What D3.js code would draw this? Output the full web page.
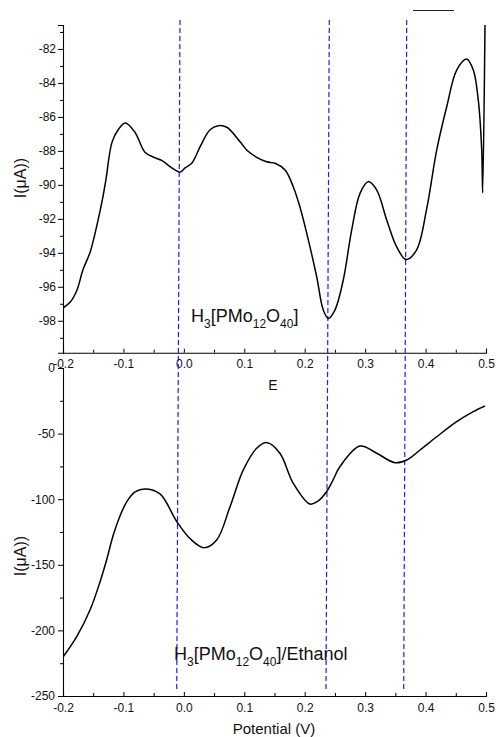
<!DOCTYPE html>
<html>
<head>
<meta charset="utf-8">
<script src="https://cdn.jsdelivr.net/npm/d3@7/dist/d3.min.js"></script>
<style>
  html, body { margin: 0; padding: 0; background: #fff; }
  svg { display: block; font-family: "Liberation Sans", Arial, sans-serif; }
</style>
</head>
<body>
<svg id="chart" width="496" height="737"></svg>
<script>
// ---- Data ----
const potentialTop = [-0.2, -0.188, -0.177, -0.167, -0.155, -0.144, -0.135, -0.129, -0.119, -0.109, -0.097, -0.081, -0.064, -0.048, -0.035, -0.020, -0.006, 0.002, 0.013, 0.027, 0.043, 0.057, 0.071, 0.093, 0.104, 0.1205, 0.137, 0.151, 0.1675, 0.181, 0.192, 0.203, 0.2198, 0.2307, 0.239, 0.250, 0.2638, 0.2777, 0.2915, 0.305, 0.319, 0.3357, 0.352, 0.3676, 0.385, 0.4019, 0.4184, 0.435, 0.4515, 0.468, 0.479, 0.4872, 0.4929, 0.4945, 0.4985];
const currentTop = [-97.25, -96.9, -96.2, -95.0, -93.95, -92.4, -90.9, -89.7, -87.5, -86.77, -86.36, -86.9, -88.1, -88.4, -88.6, -89.0, -89.25, -89.0, -88.73, -87.75, -86.77, -86.52, -86.61, -87.46, -87.95, -88.38, -88.64, -88.73, -89.13, -90.11, -91.29, -92.8, -95.41, -97.37, -97.86, -97.37, -95.6, -92.66, -90.5, -89.81, -90.3, -92.07, -93.64, -94.39, -93.84, -91.4, -87.95, -85.4, -83.24, -82.59, -83.24, -85.0, -87.95, -90.48, -80.0];

const potentialBottom = [-0.2, -0.1773, -0.1553, -0.1388, -0.1288, -0.1168, -0.1057, -0.0946, -0.0808, -0.0643, -0.0395, -0.0118, 0.0102, 0.0333, 0.0543, 0.0764, 0.0984, 0.1205, 0.1381, 0.159, 0.1811, 0.2087, 0.2220, 0.2364, 0.2468, 0.2584, 0.2915, 0.3191, 0.3494, 0.3688, 0.3908, 0.4184, 0.4515, 0.479, 0.4983];
const currentBottom = [-220.3, -204.8, -184.5, -163.1, -147.9, -127.3, -112.8, -102.1, -94.5, -92.2, -96.0, -117.0, -130.0, -137.0, -131.1, -105.7, -77.7, -61.2, -56.9, -65.0, -87.9, -103.7, -101.4, -94.1, -85.4, -75.1, -59.5, -65.0, -72.2, -70.1, -62.5, -52.4, -40.9, -33.3, -29.0];

const xTickValues = [-0.2, -0.1, 0.0, 0.1, 0.2, 0.3, 0.4, 0.5];
const xMinorValues = [-0.15, -0.05, 0.05, 0.15, 0.25, 0.35, 0.45];
const yTickTop = [-82, -84, -86, -88, -90, -92, -94, -96, -98];
const yMinorTop = [-81, -83, -85, -87, -89, -91, -93, -95, -97, -99];
const yTickBottom = [0, -50, -100, -150, -200, -250];
const yMinorBottom = [-25, -75, -125, -175, -225];

// dashed marker lines: potential at top end and bottom end
const markerTop = [-0.0064, 0.2407, 0.3688];
const markerBottom = [-0.0118, 0.2352, 0.3638];

const labelTop = [["H", false], ["3", true], ["[PMo", false], ["12", true], ["O", false], ["40", true], ["]", false]];
const labelBottom = [["H", false], ["3", true], ["[PMo", false], ["12", true], ["O", false], ["40", true], ["]/Ethanol", false]];

// ---- Drawing ----
const svg = d3.select("#chart");
svg.append("rect").attr("width", 496).attr("height", 737).attr("fill", "#fff");

const x = d3.scaleLinear().domain([-0.2, 0.5]).range([63, 486]);
const yTop = d3.scaleLinear().domain([-99.88, -80.59]).range([352.7, 25]);
const yBot = d3.scaleLinear().domain([-250, 0]).range([696, 368]);

const fmtX = d => d.toFixed(1);
const fmtY = d => String(d);

function styleAxis(g) {
  g.selectAll("path.domain").attr("stroke", "#000").attr("stroke-width", 1.1);
  g.selectAll(".tick line").attr("stroke", "#000").attr("stroke-width", 1);
  g.selectAll(".tick text").attr("fill", "#111").style("font-size", "12px").style("font-family", "'Liberation Sans', Arial, sans-serif");
}

// clip paths
svg.append("clipPath").attr("id", "clipTop").append("rect")
  .attr("x", 63).attr("y", 25).attr("width", 423).attr("height", 327.7);
svg.append("clipPath").attr("id", "clipBot").append("rect")
  .attr("x", 63).attr("y", 368).attr("width", 423).attr("height", 328);

// Top panel axes
const gYTop = svg.append("g").attr("transform", "translate(63,0)")
  .call(d3.axisLeft(yTop).tickValues(yTickTop).tickSize(5).tickPadding(2).tickFormat(fmtY));
styleAxis(gYTop);
const gYTopMinor = svg.append("g").attr("transform", "translate(63,0)")
  .call(d3.axisLeft(yTop).tickValues(yMinorTop).tickSize(3).tickFormat(""));
styleAxis(gYTopMinor); gYTopMinor.select("path.domain").remove();

const gXTop = svg.append("g").attr("transform", "translate(0,352.7)")
  .call(d3.axisBottom(x).tickValues(xTickValues).tickSize(-4).tickPadding(7).tickFormat(fmtX));
styleAxis(gXTop);
const gXTopMinor = svg.append("g").attr("transform", "translate(0,352.7)")
  .call(d3.axisBottom(x).tickValues(xMinorValues).tickSize(-3).tickFormat(""));
styleAxis(gXTopMinor); gXTopMinor.select("path.domain").remove();

// Bottom panel axes
const gYBot = svg.append("g").attr("transform", "translate(63,0)")
  .call(d3.axisLeft(yBot).tickValues(yTickBottom).tickSize(5).tickPadding(3).tickFormat(fmtY));
styleAxis(gYBot);
const gYBotMinor = svg.append("g").attr("transform", "translate(63,0)")
  .call(d3.axisLeft(yBot).tickValues(yMinorBottom).tickSize(3).tickFormat(""));
styleAxis(gYBotMinor); gYBotMinor.select("path.domain").remove();

const gXBot = svg.append("g").attr("transform", "translate(0,696)")
  .call(d3.axisBottom(x).tickValues(xTickValues).tickSize(-4).tickPadding(7).tickFormat(fmtX));
styleAxis(gXBot);
const gXBotMinor = svg.append("g").attr("transform", "translate(0,696)")
  .call(d3.axisBottom(x).tickValues(xMinorValues).tickSize(-3).tickFormat(""));
styleAxis(gXBotMinor); gXBotMinor.select("path.domain").remove();

// Dashed marker lines
svg.append("g").selectAll("line").data(d3.range(markerTop.length)).join("line")
  .attr("x1", i => x(markerTop[i])).attr("y1", 20)
  .attr("x2", i => x(markerBottom[i])).attr("y2", 690)
  .attr("stroke", "#1a1aff").attr("stroke-width", 1.2)
  .attr("stroke-dasharray", "5,3");

// Curves
const lineTop = d3.line().x(d => x(d[0])).y(d => yTop(d[1])).curve(d3.curveCatmullRom.alpha(0.5));
svg.append("path").attr("clip-path", "url(#clipTop)")
  .datum(d3.zip(potentialTop, currentTop))
  .attr("d", lineTop).attr("fill", "none").attr("stroke", "#000").attr("stroke-width", 1.5);

const lineBot = d3.line().x(d => x(d[0])).y(d => yBot(d[1])).curve(d3.curveCatmullRom.alpha(0.5));
svg.append("path").attr("clip-path", "url(#clipBot)")
  .datum(d3.zip(potentialBottom, currentBottom))
  .attr("d", lineBot).attr("fill", "none").attr("stroke", "#000").attr("stroke-width", 1.5);

// Short legend line fragment at top
svg.append("line").attr("x1", 413).attr("x2", 454).attr("y1", 10.5).attr("y2", 10.5)
  .attr("stroke", "#222").attr("stroke-width", 1.2);

// Compound labels with subscripts
function compound(xPos, yPos, parts) {
  const t = svg.append("text").attr("x", xPos).attr("y", yPos)
    .attr("fill", "#111").style("font-size", "18px");
  let shifted = false;
  parts.forEach(([s, sub]) => {
    const ts = t.append("tspan").text(s);
    if (sub && !shifted) { ts.attr("dy", 6).style("font-size", "12px"); shifted = true; }
    else if (sub && shifted) { ts.style("font-size", "12px"); }
    else if (!sub && shifted) { ts.attr("dy", -6); shifted = false; }
  });
}
compound(191, 322, labelTop);
compound(174, 660, labelBottom);

// Axis titles
svg.append("text").attr("x", 273).attr("y", 390).attr("text-anchor", "middle")
  .attr("fill", "#111").style("font-size", "14px").text("E");
svg.append("text").attr("x", 274).attr("y", 734).attr("text-anchor", "middle")
  .attr("fill", "#111").style("font-size", "15px").text("Potential (V)");
svg.append("text").attr("transform", "translate(26,178) rotate(-90)").attr("text-anchor", "middle")
  .attr("fill", "#111").style("font-size", "16px").text("I(\u03BCA))");
svg.append("text").attr("transform", "translate(26,556) rotate(-90)").attr("text-anchor", "middle")
  .attr("fill", "#111").style("font-size", "16px").text("I(\u03BCA))");
</script>
</body>
</html>
